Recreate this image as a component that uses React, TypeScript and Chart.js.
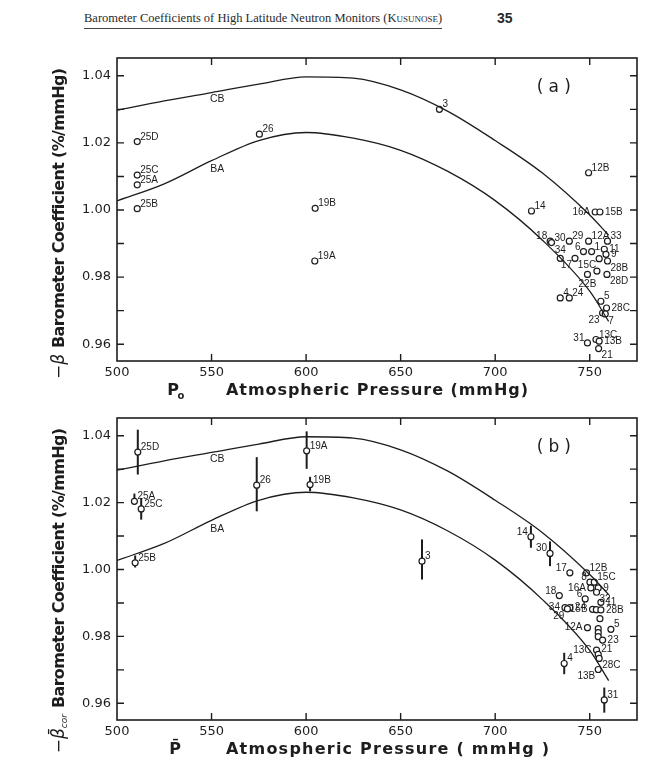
import React, { useEffect, useRef } from 'react';
import { Chart, registerables } from 'chart.js';

Chart.register(...registerables);

// Axis ticks shared by both panels
const X_TICKS = [500, 550, 600, 650, 700, 750];
const Y_TICKS = [0.96, 0.97, 0.98, 0.99, 1.0, 1.01, 1.02, 1.03, 1.04];

// Model curves CB and BA (coefficient vs. mean pressure)
const CURVE_P = [500, 525, 550, 575, 600, 625, 650, 675, 700, 725, 750, 760];
const CB_CURVE = [1.0297, 1.0325, 1.035, 1.0375, 1.0397, 1.0393, 1.0358, 1.0294, 1.0207, 1.011, 0.9985, 0.9925];
const BA_CURVE = [1.0027, 1.0078, 1.0147, 1.0207, 1.0231, 1.0214, 1.0178, 1.0115, 1.0028, 0.991, 0.9758, 0.9668];

// Panel (a): -beta against station pressure P0
const STATIONS_A = ['25D', '25C', '25A', '25B', '26', '19B', '19A', '3', '12B', '14', '16A', '15B', '18', '30', '29', '12A', '33', '6', '1', '11', '9', '34', '17', '15C', '28B', '22B', '', '28D', '4', '24', '5', '28C', '23', '7', '31', '13C', '13B', '21'];
const PRESSURE_A = [510.7, 510.7, 510.7, 510.7, 575.3, 604.8, 604.6, 670.5, 749.4, 719.2, 752.9, 755.4, 729.1, 729.8, 739.2, 749.4, 759.4, 746.7, 751.0, 757.7, 758.6, 734.4, 742.2, 755.0, 759.4, 748.8, 753.8, 759.1, 734.4, 739.2, 755.9, 758.9, 756.8, 758.2, 748.8, 753.3, 755.0, 754.7];
const COEF_A = [1.0204, 1.0104, 1.0075, 1.0004, 1.0226, 1.0005, 0.9848, 1.03, 1.0111, 0.9997, 0.9994, 0.9994, 0.9907, 0.9903, 0.9907, 0.9907, 0.9907, 0.9876, 0.9876, 0.9883, 0.9868, 0.9856, 0.9856, 0.9855, 0.9848, 0.9808, 0.9818, 0.9808, 0.9738, 0.9738, 0.9728, 0.9708, 0.9693, 0.969, 0.9604, 0.9614, 0.9609, 0.9587];
const LABEL_AT_A = ['ne', 'ne', 'ne', 'ne', 'ne', 'ne', 'ne', 'ne', 'ne', 'ne', 'w', 'e', 'nw', 'ne', 'ne', 'ne', 'ne', 'nw', 'ne', 'e', 'e', 'n', 'sw', 'sw', 'se', 's', 'e', 'se', 'ne', 'ne', 'ne', 'e', 'sw', 'se', 'nw', 'ne', 'e', 'se'];

// Panel (b): corrected -beta against mean pressure, with error bars
const STATIONS_B = ['25D', '19A', '25A', '25C', '25B', '26', '19B', '3', '14', '30', '17', '12B', '8', '15C', '16A', '9', '18', '6', '32', '11', '34', '24', '29', '15B', '', '28B', '', '12A', '5', '', '', '', '23', '13C', '21', '28C', '4', '13B', '31'];
const PRESSURE_B = [511.0, 600.3, 509.2, 512.8, 509.6, 573.9, 602.1, 661.3, 718.9, 729.0, 739.5, 748.3, 750.1, 752.4, 750.6, 754.5, 733.9, 747.6, 753.6, 755.9, 736.9, 739.5, 738.2, 751.5, 753.5, 755.9, 755.4, 748.8, 761.2, 754.5, 754.5, 754.5, 756.8, 753.6, 754.5, 755.0, 736.5, 754.5, 757.7];
const COEF_B = [1.0351, 1.0355, 1.0204, 1.0181, 1.002, 1.0252, 1.0254, 1.0025, 1.0098, 1.0048, 0.999, 0.999, 0.9962, 0.9962, 0.9945, 0.9945, 0.9922, 0.9912, 0.9932, 0.9902, 0.9886, 0.9886, 0.9882, 0.9881, 0.988, 0.9879, 0.9853, 0.9826, 0.9821, 0.9823, 0.9811, 0.9799, 0.9789, 0.9759, 0.9746, 0.9734, 0.9719, 0.9701, 0.961];
const ERR_LO_B = [1.0284, 1.0301, 1.0194, 1.0149, 1.0006, 1.0174, 1.0234, 0.997, 1.0065, 1.001, null, null, null, null, null, null, null, null, null, null, null, null, null, null, null, null, null, null, null, null, null, null, null, null, null, null, 0.9687, null, 0.9572];
const ERR_HI_B = [1.0418, 1.0413, 1.0227, 1.0214, 1.0042, 1.0336, 1.0277, 1.009, 1.0131, 1.0084, null, null, null, null, null, null, null, null, null, null, null, null, null, null, null, null, null, null, null, null, null, null, null, null, null, null, 0.9751, null, 0.9647];
const LABEL_AT_B = ['ne', 'ne', 'ne', 'ne', 'ne', 'ne', 'ne', 'ne', 'nw', 'nw', 'nw', 'ne', 'nw', 'ne', 'w', 'e', 'nw', 'nw', 'se', 'e', 'w', 'e', 'sw', 'w', 'e', 'e', 'e', 'w', 'ne', 'e', 'e', 'e', 'e', 'w', 'ne', 'se', 'ne', 'sw', 'ne'];

const INK = '#1d1d1d';
const X_MIN = 500;
const X_MAX = 775;
const Y_MIN = 0.955;
const Y_MAX = 1.0453;

type PanelSpec = {
  tag: string;
  stations: string[];
  pressure: number[];
  coef: number[];
  labelAt: string[];
  errLo?: (number | null)[];
  errHi?: (number | null)[];
  xSymbol: string;
  xTitle: string;
  xTitleSpan: [number, number];
  corrected: boolean;
};

function drawSpaced(ctx: CanvasRenderingContext2D, text: string, x: number, y: number, width: number) {
  const chars = Array.from(text);
  const widths = chars.map((c) => ctx.measureText(c).width);
  const total = widths.reduce((s, w) => s + w, 0);
  const gap = chars.length > 1 ? (width - total) / (chars.length - 1) : 0;
  ctx.textAlign = 'left';
  let cx = x;
  chars.forEach((c, i) => {
    ctx.fillText(c, cx, y);
    cx += widths[i] + gap;
  });
}

function placeLabel(ctx: CanvasRenderingContext2D, text: string, x: number, y: number, at: string) {
  if (!text) return;
  let dx = 3, dy = -2;
  let align: CanvasTextAlign = 'left';
  let base: CanvasTextBaseline = 'alphabetic';
  switch (at) {
    case 'nw': dx = -3; dy = -2; align = 'right'; break;
    case 'se': dx = 3; dy = 2; base = 'top'; break;
    case 'sw': dx = -3; dy = 2; align = 'right'; base = 'top'; break;
    case 'e': dx = 5; dy = 0; base = 'middle'; break;
    case 'w': dx = -5; dy = 0; align = 'right'; base = 'middle'; break;
    case 'n': dx = 0; dy = -5; align = 'center'; break;
    case 's': dx = 0; dy = 5; align = 'center'; base = 'top'; break;
  }
  ctx.textAlign = align;
  ctx.textBaseline = base;
  ctx.fillText(text, x + dx, y + dy);
}

function buildChart(canvas: HTMLCanvasElement, spec: PanelSpec, height: number, axisHeight: number) {
  const decor = {
    id: 'panelDecor',
    beforeDatasetsDraw(chart: any) {
      if (!spec.errLo || !spec.errHi) return;
      const ctx = chart.ctx as CanvasRenderingContext2D;
      const xs = chart.scales.x;
      const ys = chart.scales.y;
      ctx.save();
      ctx.strokeStyle = INK;
      ctx.lineWidth = 2;
      spec.errLo.forEach((lo, i) => {
        const hi = spec.errHi![i];
        if (lo == null || hi == null) return;
        const px = xs.getPixelForValue(spec.pressure[i]);
        ctx.beginPath();
        ctx.moveTo(px, ys.getPixelForValue(lo));
        ctx.lineTo(px, ys.getPixelForValue(hi));
        ctx.stroke();
      });
      ctx.restore();
    },
    afterDatasetsDraw(chart: any) {
      const ctx = chart.ctx as CanvasRenderingContext2D;
      const { left, right, top, bottom } = chart.chartArea;
      const xs = chart.scales.x;
      const ys = chart.scales.y;
      ctx.save();
      // frame with inward ticks on all four sides
      ctx.strokeStyle = INK;
      ctx.lineWidth = 1.6;
      ctx.strokeRect(left, top, right - left, bottom - top);
      ctx.lineWidth = 1.4;
      ctx.beginPath();
      xs.ticks.forEach((t: any) => {
        const px = xs.getPixelForValue(t.value);
        if (px <= left + 1 || px >= right - 1) return;
        ctx.moveTo(px, bottom); ctx.lineTo(px, bottom - 7);
        ctx.moveTo(px, top); ctx.lineTo(px, top + 7);
      });
      ys.ticks.forEach((t: any) => {
        const py = ys.getPixelForValue(t.value);
        if (py <= top + 1 || py >= bottom - 1) return;
        ctx.moveTo(left, py); ctx.lineTo(left + 7, py);
        ctx.moveTo(right, py); ctx.lineTo(right - 7, py);
      });
      ctx.stroke();

      // station labels
      ctx.fillStyle = INK;
      ctx.font = '10px "Liberation Sans", sans-serif';
      spec.stations.forEach((name, i) => {
        const px = xs.getPixelForValue(spec.pressure[i]);
        const py = ys.getPixelForValue(spec.coef[i]);
        placeLabel(ctx, name, px, py, spec.labelAt[i]);
      });

      // curve names
      ctx.font = '10.5px "Liberation Sans", sans-serif';
      ctx.textAlign = 'center';
      ctx.textBaseline = 'middle';
      ctx.fillText('CB', xs.getPixelForValue(553), ys.getPixelForValue(1.033));
      ctx.fillText('BA', xs.getPixelForValue(553), ys.getPixelForValue(1.0122));

      // panel tag
      ctx.font = '17px "DejaVu Sans", sans-serif';
      ctx.textBaseline = 'middle';
      const tx = xs.getPixelForValue(731);
      const ty = ys.getPixelForValue(1.0365);
      drawSpaced(ctx, '(' + spec.tag + ')', tx - 17, ty, 34);
      ctx.restore();
    },
    afterDraw(chart: any) {
      const ctx = chart.ctx as CanvasRenderingContext2D;
      const { top, bottom } = chart.chartArea;
      ctx.save();
      ctx.fillStyle = INK;

      // x-axis title
      const ty = bottom + 30;
      ctx.font = 'bold 16px "DejaVu Sans", sans-serif';
      ctx.textBaseline = 'middle';
      drawSpaced(ctx, spec.xTitle, spec.xTitleSpan[0], ty, spec.xTitleSpan[1] - spec.xTitleSpan[0]);
      ctx.textAlign = 'center';
      if (spec.corrected) {
        ctx.fillText('P\u0304', 175, ty);
      } else {
        ctx.fillText('P', 173, ty);
        ctx.font = 'bold 10px "DejaVu Sans", sans-serif';
        ctx.fillText('o', 181, ty + 5);
      }

      // y-axis title, rotated
      const yStart = top + 10;
      const yEnd = top + 290;
      ctx.translate(60, 0);
      ctx.rotate(-Math.PI / 2);
      ctx.font = 'bold 16px "DejaVu Sans", sans-serif';
      ctx.textBaseline = 'middle';
      drawSpaced(ctx, 'Barometer Coefficient (%/mmHg)', -yEnd, 0, yEnd - yStart);
      ctx.textAlign = 'right';
      if (spec.corrected) {
        ctx.font = 'italic 9px "DejaVu Sans", sans-serif';
        const subX = -(yEnd + 6);
        ctx.fillText('cor', subX, 5);
        const cw = ctx.measureText('cor').width;
        ctx.font = 'italic 17px "DejaVu Sans", sans-serif';
        ctx.fillText('\u2212\u03B2\u0304', subX - cw, 0);
      } else {
        ctx.font = 'italic 17px "DejaVu Sans", sans-serif';
        ctx.fillText('\u2212\u03B2', -(yEnd + 6), 0);
      }
      ctx.restore();
    },
  };

  return new Chart(canvas, {
    type: 'scatter',
    data: {
      datasets: [
        {
          data: CURVE_P.map((p, i) => ({ x: p, y: CB_CURVE[i] })),
          showLine: true,
          borderColor: INK,
          borderWidth: 1.3,
          pointRadius: 0,
          cubicInterpolationMode: 'monotone',
        } as any,
        {
          data: CURVE_P.map((p, i) => ({ x: p, y: BA_CURVE[i] })),
          showLine: true,
          borderColor: INK,
          borderWidth: 1.3,
          pointRadius: 0,
          cubicInterpolationMode: 'monotone',
        } as any,
        {
          data: spec.pressure.map((p, i) => ({ x: p, y: spec.coef[i] })),
          pointRadius: 3,
          pointBackgroundColor: '#ffffff',
          pointBorderColor: INK,
          pointBorderWidth: 1.2,
        } as any,
      ],
    },
    options: {
      animation: false,
      responsive: false,
      maintainAspectRatio: false,
      devicePixelRatio: 1,
      events: [],
      layout: { padding: { top: 18, right: 11, left: 0, bottom: 0 } },
      plugins: { legend: { display: false }, tooltip: { enabled: false } },
      scales: {
        x: {
          type: 'linear',
          min: X_MIN,
          max: X_MAX,
          grid: { display: false, drawTicks: false },
          border: { display: false },
          afterBuildTicks: (s: any) => { s.ticks = X_TICKS.map((v) => ({ value: v })); },
          afterFit: (s: any) => { s.height = axisHeight; },
          ticks: {
            autoSkip: false,
            maxRotation: 0,
            padding: 4,
            color: INK,
            font: { family: '"DejaVu Sans", sans-serif', size: 13 },
            callback: (v: any) => String(v),
          },
        },
        y: {
          type: 'linear',
          min: Y_MIN,
          max: Y_MAX,
          grid: { display: false, drawTicks: false },
          border: { display: false },
          afterBuildTicks: (s: any) => { s.ticks = Y_TICKS.map((v) => ({ value: v })); },
          afterFit: (s: any) => { s.width = 117; },
          ticks: {
            autoSkip: false,
            padding: 6,
            color: INK,
            font: { family: '"DejaVu Sans", sans-serif', size: 13 },
            callback: (v: any) => (Math.round(Number(v) * 100) % 2 === 0 ? Number(v).toFixed(2) : ''),
          },
        },
      },
    },
    plugins: [decor as any],
  });
}

function Panel({ spec, top, height, axisHeight }: { spec: PanelSpec; top: number; height: number; axisHeight: number }) {
  const ref = useRef<HTMLCanvasElement>(null);
  useEffect(() => {
    const chart = buildChart(ref.current!, spec, height, axisHeight);
    return () => chart.destroy();
  }, []);
  return (
    <canvas
      ref={ref}
      width={648}
      height={height}
      style={{ position: 'absolute', left: 0, top, width: 648, height }}
    />
  );
}

const PANEL_A: PanelSpec = {
  tag: 'a',
  stations: STATIONS_A,
  pressure: PRESSURE_A,
  coef: COEF_A,
  labelAt: LABEL_AT_A,
  xSymbol: 'P0',
  xTitle: 'Atmospheric Pressure (mmHg)',
  xTitleSpan: [226, 528],
  corrected: false,
};

const PANEL_B: PanelSpec = {
  tag: 'b',
  stations: STATIONS_B,
  pressure: PRESSURE_B,
  coef: COEF_B,
  labelAt: LABEL_AT_B,
  errLo: ERR_LO_B,
  errHi: ERR_HI_B,
  xSymbol: 'P',
  xTitle: 'Atmospheric Pressure ( mmHg )',
  xTitleSpan: [226, 549],
  corrected: true,
};

export default function App() {
  return (
    <div style={{ position: 'fixed', left: 0, top: 0, width: 648, height: 767, background: '#ffffff', overflow: 'hidden' }}>
      <div
        style={{
          position: 'absolute',
          left: 84,
          top: 11,
          fontFamily: '"Liberation Serif", serif',
          fontSize: 12.5,
          lineHeight: '15px',
          color: '#2a2a2a',
          whiteSpace: 'nowrap',
          borderBottom: '1px solid #444',
          paddingBottom: 2,
        }}
      >
        Barometer Coefficients of High Latitude Neutron Monitors (K
        <span style={{ fontVariant: 'small-caps' }}>usunose</span>)
      </div>
      <div
        style={{
          position: 'absolute',
          left: 497,
          top: 11,
          fontFamily: '"Liberation Sans Narrow", "Liberation Sans", sans-serif',
          fontWeight: 'bold',
          fontSize: 14,
          lineHeight: '15px',
          color: '#2a2a2a',
        }}
      >
        35
      </div>
      <Panel spec={PANEL_A} top={40} height={360} axisHeight={39} />
      <Panel spec={PANEL_B} top={400} height={367} axisHeight={47} />
    </div>
  );
}
